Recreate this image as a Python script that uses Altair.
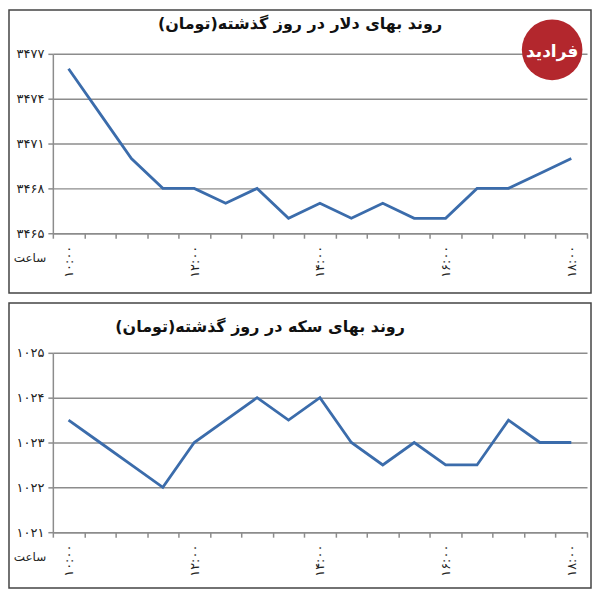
import json
import pandas as pd
import altair as alt

FONT = "DejaVu Sans"
FA = str.maketrans("0123456789", "۰۱۲۳۴۵۶۷۸۹")

# half-hour readings, 10:00 .. 18:00
times = ["10:00", "10:30", "11:00", "11:30", "12:00", "12:30", "13:00", "13:30", "14:00",
         "14:30", "15:00", "15:30", "16:00", "16:30", "17:00", "17:30", "18:00"]
tick_times = ["10:00", "12:00", "14:00", "16:00", "18:00"]

usd = [3476, 3473, 3470, 3468, 3468, 3467, 3468, 3466, 3467,
       3466, 3467, 3466, 3466, 3468, 3468, 3469, 3470]
usd_ticks = [3465, 3468, 3471, 3474, 3477]

coin = [1023.5, 1023, 1022.5, 1022, 1023, 1023.5, 1024, 1023.5, 1024,
        1023, 1022.5, 1023, 1022.5, 1022.5, 1023.5, 1023, 1023]
coin_ticks = [1021, 1022, 1023, 1024, 1025]

usd_title = "روند بهای دلار در روز گذشته(تومان)"
coin_title = "روند بهای سکه در روز گذشته(تومان)"
hour_word = "ساعت"

W, H = 536, 180
LEFT = 44
GRID = "#8c8c8c"
LINE = "#3b6cab"


def fa(v):
    return str(v).translate(FA)


def panel(values, ticks, title, title_x, title_y, box_top, box_bottom, logo=False):
    df = pd.DataFrame({"time": [fa(t) for t in times], "price": values})
    one = pd.DataFrame({"a": [0]})

    x_labels = json.dumps([fa(t) for t in tick_times], ensure_ascii=False)
    y_expr = " : ".join(f"datum.value == {v} ? '{fa(v)}'" for v in ticks) + " : ''"

    border = alt.Chart(one).mark_rect(fillOpacity=0, stroke="#444", strokeWidth=1.5).encode(
        x=alt.value(-LEFT), x2=alt.value(W + 4), y=alt.value(box_top), y2=alt.value(box_bottom)
    )

    line = alt.Chart(df).mark_line(color=LINE, strokeWidth=2.8).encode(
        x=alt.X("time:O", sort=[fa(t) for t in times], bandPosition=0.5,
                scale=alt.Scale(type="band", paddingInner=0, paddingOuter=0),
                axis=alt.Axis(title=None, labelAngle=270, labelExpr=f"indexof({x_labels}, datum.value) >= 0 ? datum.value : ''",
                              tickBand="extent", grid=False, domainColor=GRID, domainWidth=1.5,
                              tickColor=GRID, tickWidth=1.5, tickSize=5, labelPadding=7,
                              labelFont=FONT, labelFontSize=13, labelColor="#222", labelOverlap=False)),
        y=alt.Y("price:Q", scale=alt.Scale(domain=[ticks[0], ticks[-1]], nice=False, zero=False),
                axis=alt.Axis(title=None, values=ticks, labelExpr=y_expr, grid=True, gridColor=GRID,
                              gridWidth=1.5, domainColor=GRID, domainWidth=1.5, tickColor=GRID,
                              tickWidth=1.5, tickSize=5, labelPadding=4, labelFont=FONT,
                              labelFontSize=13, labelColor="#222"))
    )

    head = alt.Chart(one).mark_text(text=title, font=FONT, fontSize=16, fontWeight="bold", dir="rtl",
                                    align="center", baseline="middle", color="#111").encode(
        x=alt.value(title_x), y=alt.value(title_y)
    )

    hour = alt.Chart(one).mark_text(text=hour_word, font=FONT, fontSize=12, dir="rtl",
                                    align="center", baseline="middle", color="#222").encode(
        x=alt.value(-23), y=alt.value(H + 25)
    )

    layers = [border, line, head, hour]
    if logo:
        layers.append(alt.Chart(one).mark_circle(size=3700, color="#b3272d", opacity=1).encode(
            x=alt.value(501), y=alt.value(-4)))
        layers.append(alt.Chart(one).mark_text(text="فرادید", font=FONT, fontSize=17, fontWeight="bold",
                                               dir="rtl", align="center", baseline="middle",
                                               color="white").encode(x=alt.value(501), y=alt.value(-2)))

    return alt.layer(*layers).properties(width=W, height=H)


top = panel(usd, usd_ticks, usd_title, 248, -30, -44, H + 60, logo=True)
bottom = panel(coin, coin_ticks, coin_title, 208, -26, -50, H + 56)

chart = alt.vconcat(top, bottom, spacing=8).properties(padding=0).configure_view(strokeWidth=0)

chart.save("out.html", embed_options={"renderer": "svg", "actions": False})
